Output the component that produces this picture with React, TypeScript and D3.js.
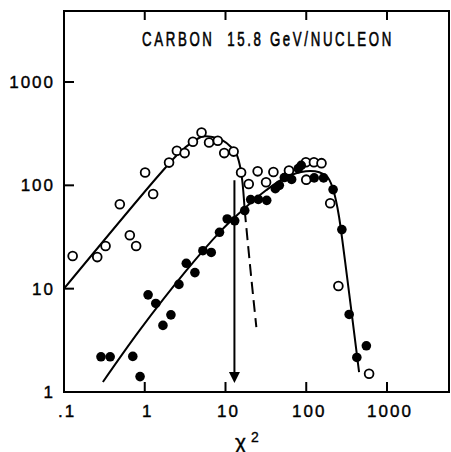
import React, { useLayoutEffect, useRef, useState } from "react";
import * as d3 from "d3";

// Open circles
const openX = [0.128, 0.258, 0.327, 0.491, 0.653, 0.782, 1.01, 1.27, 2.0, 2.5, 3.12, 3.95, 5.05, 6.26, 8.03, 9.64, 12.6, 15.6, 19.4, 25, 31.8, 39.2, 61.1, 99, 124.5, 154.5, 100, 198, 250, 600];
const openY = [20.7, 20.2, 25.9, 65.5, 32.9, 25.9, 133, 82.4, 166, 216, 205, 264, 325, 260, 270, 205, 212, 133, 103, 136.5, 107, 134.5, 139, 167, 167, 164, 113.5, 67, 10.6, 1.5];

// Filled circles
const filledX = [0.287, 0.373, 0.711, 0.875, 1.10, 1.37, 1.68, 2.11, 2.65, 3.27, 4.18, 5.25, 6.66, 8.43, 10.5, 13.0, 17.3, 20.5, 25.5, 32.4, 41.4, 46.4, 53.5, 65.9, 79.6, 86.7, 125.5, 164, 215, 276, 340, 423, 555];
const filledY = [2.19, 2.19, 2.21, 1.41, 8.71, 7.19, 4.41, 5.58, 11.0, 17.6, 14.3, 23.3, 22.4, 35.1, 47.3, 45.4, 57, 72.8, 73.2, 71.6, 92.9, 100, 119, 114, 145, 156, 118, 118, 90.9, 37.3, 5.63, 2.16, 2.8];

// Fitted curves
const openFitX = [0.1, 1.53, 2.7, 3.92, 5.2, 6.9, 9.2, 11.8, 13.6, 14.9, 16.1, 17.3];
const openFitY = [10, 128, 208, 263, 297, 294, 272, 234, 202, 162, 112, 57.3];
const openDashX = [17.3, 20.4, 24.1];
const openDashY = [57.3, 15.1, 4.25];
const filledFitX = [0.303, 0.867, 3.3, 8.43, 16.2, 31.8, 56.1, 99, 145, 183, 211, 233, 255, 324, 451];
const filledFitY = [1.25, 3.97, 15.1, 35.1, 57.3, 89.5, 120, 137, 134, 120, 96.3, 71.6, 49.4, 12.1, 1.56];

// Arrow (chi^2 cut)
const arrowX = 12.9;
const arrowTop = 112;
const arrowTip = 1.22;

const xTicks = [0.1, 1, 10, 100, 1000];
const xTickLabels = [".1", "1", "10", "100", "1000"];
const yTicks = [1, 10, 100, 1000];
const yTickLabels = ["1", "10", "100", "1000"];
const title = "CARBON  15.8 GeV/NUCLEON";

export default function App() {
  const W = 451, H = 452;
  const left = 64, right = 449, top = 11, bottom = 392;
  const x = d3.scaleLog().domain([0.1, 1000]).range([64, 387]);
  const y = d3.scaleLog().domain([1, 1000]).range([392, 82]);
  const font = "'Liberation Sans', Arial, sans-serif";
  const titleRef = useRef<SVGTextElement>(null);
  const [titleScale, setTitleScale] = useState(0.69);

  useLayoutEffect(() => {
    if (titleRef.current) {
      const w = titleRef.current.getComputedTextLength();
      if (w > 0) setTitleScale(252 / w);
    }
  }, []);

  const toPts = (xs: number[], ys: number[]) => xs.map((v, i) => [v, ys[i]] as [number, number]);
  const line = d3.line<[number, number]>()
    .x(d => x(d[0]))
    .y(d => y(d[1]))
    .curve(d3.curveCatmullRom.alpha(0.5));

  const ax = x(arrowX);
  const tipY = y(arrowTip);

  return (
    <svg width={W} height={H} style={{ position: "absolute", left: 0, top: 0, background: "#fff" }}>
      <rect x={0} y={0} width={W} height={H} fill="#fff" />
      {/* frame */}
      <rect x={left} y={top} width={right - left} height={bottom - top} fill="none" stroke="#000" strokeWidth={2} />
      {/* ticks */}
      {xTicks.slice(1).map((t, i) => (
        <g key={"xt" + i}>
          <line x1={x(t)} x2={x(t)} y1={bottom} y2={bottom - 10} stroke="#000" strokeWidth={2} />
          <line x1={x(t)} x2={x(t)} y1={top} y2={top + 9} stroke="#000" strokeWidth={2} />
        </g>
      ))}
      {yTicks.slice(1).map((t, i) => (
        <line key={"yt" + i} x1={left} x2={left + 10} y1={y(t)} y2={y(t)} stroke="#000" strokeWidth={2} />
      ))}
      {/* tick labels */}
      {xTicks.map((t, i) => (
        <text key={"xl" + i} x={x(t) + 3} y={417} textAnchor="middle" fontFamily={font} fontSize={17} letterSpacing={2} fill="#000" stroke="#000" strokeWidth={0.4}>
          {xTickLabels[i]}
        </text>
      ))}
      {yTicks.map((t, i) => (
        <text key={"yl" + i} x={55} y={y(t) + 6} textAnchor="end" fontFamily={font} fontSize={17} letterSpacing={2} fill="#000" stroke="#000" strokeWidth={0.4}>
          {yTickLabels[i]}
        </text>
      ))}
      {/* axis title */}
      <text x={235} y={449} fontFamily={font} fontSize={21} fill="#000" stroke="#000" strokeWidth={0.4}>χ</text>
      <text x={251} y={442} fontFamily={font} fontSize={14} fill="#000" stroke="#000" strokeWidth={0.3}>2</text>
      {/* title */}
      <g transform={`translate(142,46) scale(${titleScale},1)`}>
        <text ref={titleRef} x={0} y={0} fontFamily={font} fontSize={20} letterSpacing={4} fill="#000" stroke="#000" strokeWidth={0.6} style={{ whiteSpace: "pre" }}>
          {title}
        </text>
      </g>
      {/* fits */}
      <path d={line(toPts(openFitX, openFitY)) || ""} fill="none" stroke="#000" strokeWidth={2} />
      <path d={line(toPts(openDashX, openDashY)) || ""} fill="none" stroke="#000" strokeWidth={2} strokeDasharray="12,6" />
      <path d={line(toPts(filledFitX, filledFitY)) || ""} fill="none" stroke="#000" strokeWidth={2} />
      {/* arrow */}
      <line x1={ax} x2={ax} y1={y(arrowTop)} y2={tipY - 8} stroke="#000" strokeWidth={2} />
      <path d={`M${ax - 5.5},${tipY - 11} L${ax + 5.5},${tipY - 11} L${ax},${tipY} Z`} fill="#000" />
      {/* points */}
      {openX.map((v, i) => (
        <circle key={"o" + i} cx={x(v)} cy={y(openY[i])} r={4.4} fill="#fff" stroke="#000" strokeWidth={1.8} />
      ))}
      {filledX.map((v, i) => (
        <circle key={"f" + i} cx={x(v)} cy={y(filledY[i])} r={4.8} fill="#000" />
      ))}
    </svg>
  );
}
